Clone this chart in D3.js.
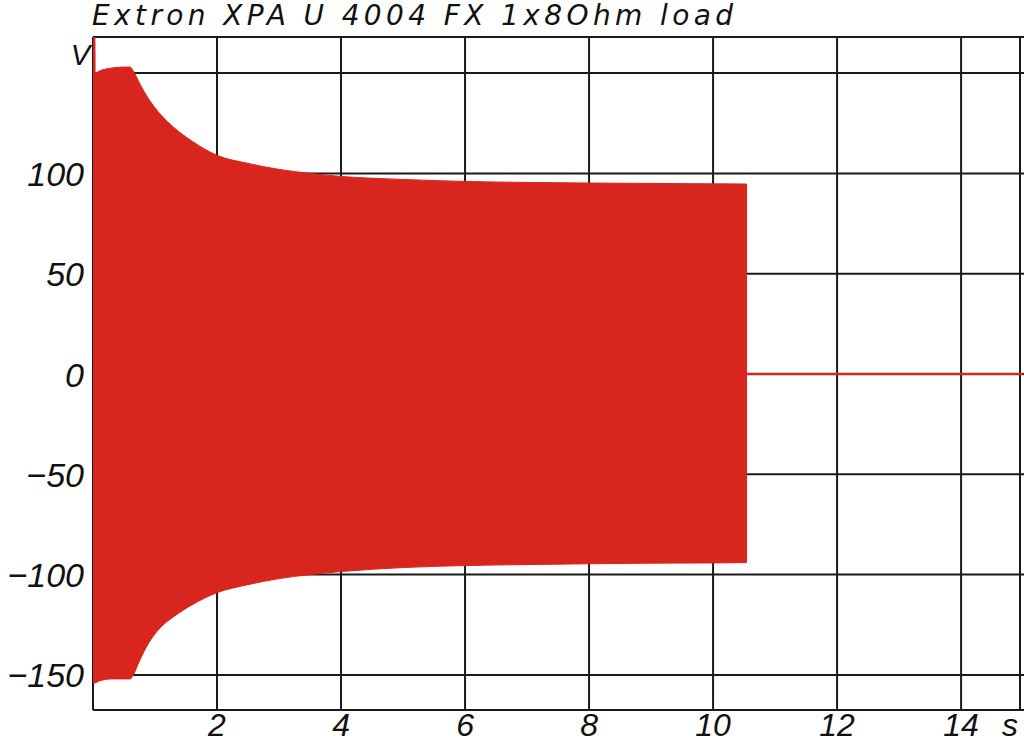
<!DOCTYPE html>
<html>
<head>
<meta charset="utf-8">
<script src="https://cdn.jsdelivr.net/npm/d3@7"></script>
<style>
  body { margin: 0; background: #fff; }
  svg { display: block; }
  text { font-family: "Liberation Sans", Arial, sans-serif; font-style: italic; fill: #111; }
  text.title { font-family: "DejaVu Sans", sans-serif; font-style: oblique; }
</style>
</head>
<body>
<svg id="chart" width="1024" height="744"></svg>
<script>
// ---- Data ----
const title = "Extron XPA U 4004 FX 1x8Ohm load";
const envTime  = [0, 0.03, 0.035, 0.1, 0.3, 0.5, 0.6, 0.65, 0.75, 0.9, 1.1, 1.3, 1.6, 2.0, 2.5, 3.0, 3.5, 4, 5, 6, 7, 8, 9, 10, 10.54];
const envUpper = [170, 170, 150, 151, 152.5, 153, 153, 151, 145, 137, 129, 123, 116, 109, 105, 102, 100, 98.5, 97, 96, 95.5, 95.2, 95, 94.8, 94.7];
const envLower = [-154, -154, -154, -153, -152, -152, -152, -150, -143, -134, -126, -121, -115, -109, -105, -102, -100, -98.5, -96.5, -95.5, -95, -94.6, -94.3, -94.2, -94];
const tailTime = [10.54, 15];
const tailValue = [0, 0];
const xTicks = [2, 4, 6, 8, 10, 12, 14];
const yTicks = [-150, -100, -50, 0, 50, 100, 150];
const yLabelTicks = [-150, -100, -50, 0, 50, 100];
const xUnit = "s";
const yUnit = "V";

// ---- Layout ----
const svg = d3.select("#chart");
const x = d3.scaleLinear().domain([0, 14.95]).range([93, 1020]);
const y = d3.scaleLinear().domain([-167.5, 168]).range([710, 37]);
const red = "#d8251e";
const gridColor = "#1a1a1a";

// grid lines
const grid = svg.append("g");
grid.selectAll("line.v").data(xTicks).join("line")
  .attr("x1", d => x(d)).attr("x2", d => x(d))
  .attr("y1", y.range()[1]).attr("y2", y.range()[0])
  .attr("stroke", gridColor).attr("stroke-width", 2);
grid.selectAll("line.h").data(yTicks).join("line")
  .attr("x1", x.range()[0]).attr("x2", 1024)
  .attr("y1", d => y(d)).attr("y2", d => y(d))
  .attr("stroke", gridColor).attr("stroke-width", 2);
// frame
grid.append("line").attr("x1", x.range()[0]).attr("x2", 1024).attr("y1", y.range()[1]).attr("y2", y.range()[1]).attr("stroke", gridColor).attr("stroke-width", 2);
grid.append("line").attr("x1", x.range()[0]).attr("x2", 1024).attr("y1", y.range()[0]).attr("y2", y.range()[0]).attr("stroke", gridColor).attr("stroke-width", 2);
grid.append("line").attr("x1", x.range()[0]).attr("x2", x.range()[0]).attr("y1", y.range()[1]).attr("y2", y.range()[0]).attr("stroke", gridColor).attr("stroke-width", 2);
grid.append("line").attr("x1", x.range()[1]).attr("x2", x.range()[1]).attr("y1", y.range()[1]).attr("y2", y.range()[0]).attr("stroke", gridColor).attr("stroke-width", 2);

// clip to plot
svg.append("clipPath").attr("id", "clip").append("rect")
  .attr("x", x.range()[0]).attr("y", y.range()[1])
  .attr("width", 1024 - x.range()[0]).attr("height", y.range()[0] - y.range()[1]);

const env = envTime.map((t, i) => ({t, hi: envUpper[i], lo: envLower[i]}));
const area = d3.area()
  .x(d => x(d.t)).y0(d => y(d.lo)).y1(d => y(d.hi))
  .curve(d3.curveMonotoneX);
svg.append("path").datum(env)
  .attr("clip-path", "url(#clip)")
  .attr("d", area).attr("fill", red).attr("stroke", red).attr("stroke-width", 1);

const tail = tailTime.map((t, i) => ({t, v: tailValue[i]}));
svg.append("path").datum(tail)
  .attr("clip-path", "url(#clip)")
  .attr("d", d3.line().x(d => x(d.t)).y(d => y(d.v)))
  .attr("fill", "none").attr("stroke", red).attr("stroke-width", 2.5);

// axes labels
const fmt = d => (d < 0 ? "\u2212" + Math.abs(d) : String(d));
svg.append("g").selectAll("text").data(yLabelTicks).join("text")
  .attr("x", 84).attr("y", d => y(d) + 12.5)
  .attr("text-anchor", "end").style("font-size", "34px")
  .text(fmt);
svg.append("text").attr("x", 90).attr("y", 65)
  .attr("text-anchor", "end").style("font-size", "29px").text(yUnit);

svg.append("g").selectAll("text").data(xTicks).join("text")
  .attr("x", d => x(d)).attr("y", 736)
  .attr("text-anchor", "middle").style("font-size", "32px")
  .text(d => String(d));
svg.append("text").attr("x", 1010).attr("y", 736)
  .attr("text-anchor", "middle").style("font-size", "32px").text(xUnit);

// title
svg.append("text").attr("class", "title").attr("x", 92).attr("y", 25)
  .style("font-size", "28px")
  .attr("textLength", 641).attr("lengthAdjust", "spacing")
  .text(title);
</script>
</body>
</html>
